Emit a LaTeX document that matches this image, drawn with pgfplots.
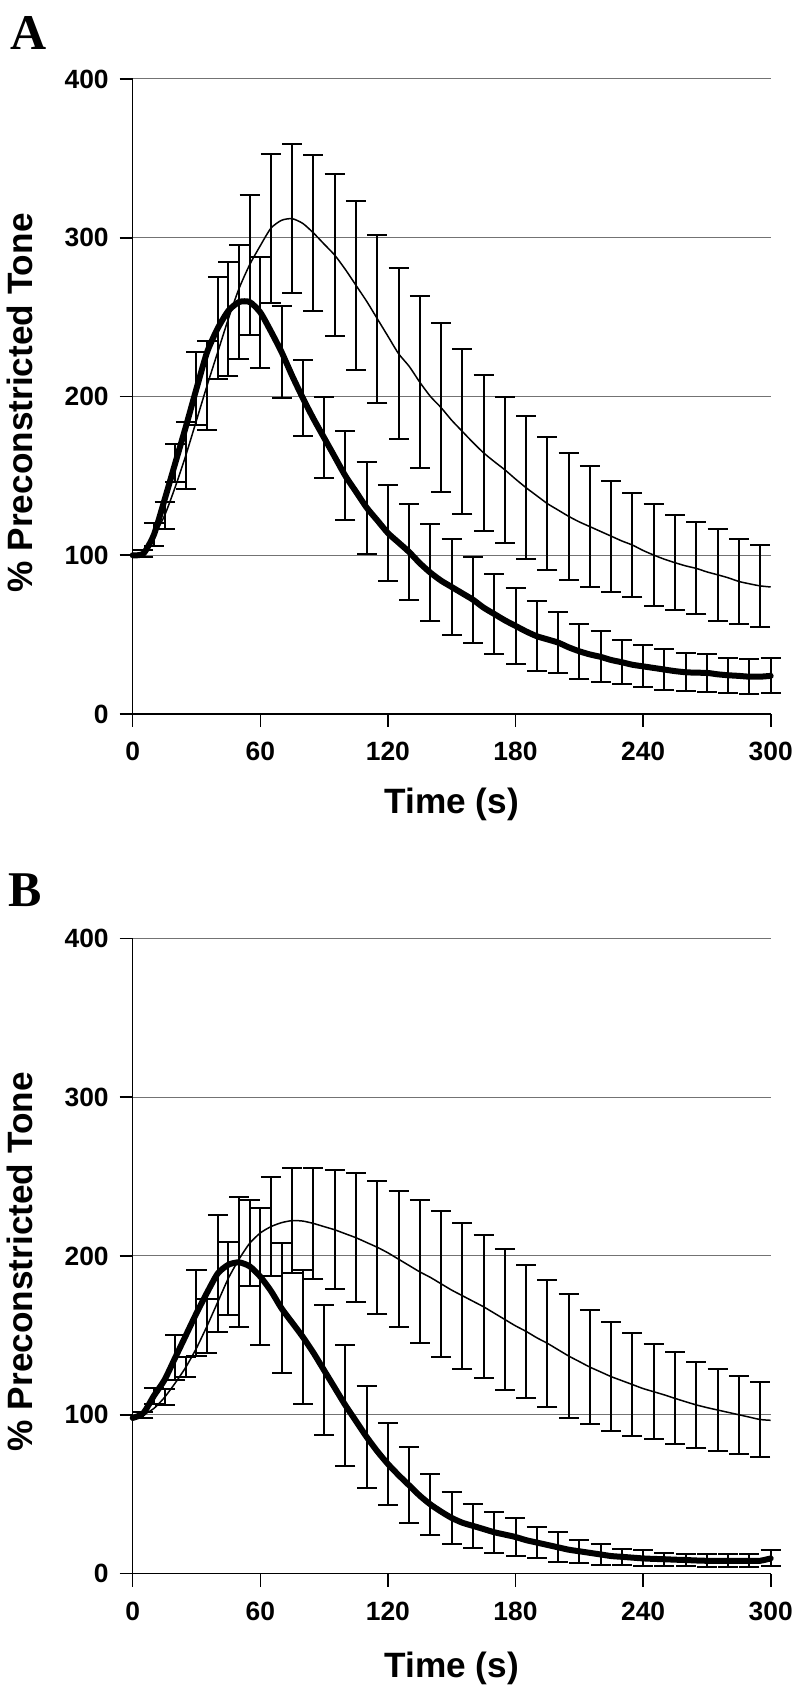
\documentclass[border=0pt]{standalone}
\usepackage{fontspec}
\setmainfont{Liberation Sans}
\newfontfamily\letterfont{Liberation Serif}
\usepackage{pgfplots}
\pgfplotsset{compat=1.18}

% shared look of both panels
\pgfplotsset{
  panel/.style={
    scale only axis, width=319pt, height=317.5pt,
    xmin=0, xmax=300, ymin=0, ymax=400,
    xtick={0,60,...,300}, ytick={0,100,...,400},
    axis x line=bottom, axis y line=left,
    axis line style={-, line width=0.8pt},
    tick align=outside, major tick length=6.5pt,
    tick style={black, line width=0.8pt},
    ymajorgrids, grid style={black!55, line width=0.5pt},
    /pgf/number format/assume math mode=true,
    tick label style={font=\fontsize{13.2}{15}\selectfont\bfseries},
    xticklabel style={yshift=-4pt},
    yticklabel style={xshift=-2pt},
    label style={font=\fontsize{17.6}{20}\selectfont\bfseries},
    xlabel={Time (s)},
    ylabel={\% Preconstricted Tone},
    clip=false,
  },
  thinline/.style={black, mark=none, line width=0.75pt, smooth, tension=0.4},
  thickline/.style={black, mark=none, line width=3pt, smooth, tension=0.4, line join=round, line cap=round},
  sembars/.style={draw=none, mark=none,
    error bars/.cd, y dir=both, y explicit,
    error bar style={draw=black, line width=1pt},
    error mark options={draw=black, rotate=90, mark size=5pt, line width=1pt}},
}

% ---------- panel A ----------
\pgfplotstableread{
t v
0 100
5 101
10 112
15 125
20 143
25 163
30 185
35 207
40 228
45 249
50 268
55 283
60 295
65 306
70 311
75 312
80 309
85 303
90 296
95 289
100 280
105 270
110 260
115 249
120 238
125 227
130 219
135 209
140 200
145 193
150 185
155 178
160 171
165 164.5
170 159
175 153.8
180 148
185 142.5
190 137.5
195 132.5
200 128.5
205 124.5
210 121
215 118
220 115
225 112
230 109
235 106.4
240 103
245 100.1
250 97.5
255 95.3
260 93.3
265 91.7
270 89.5
275 87.7
280 85.8
285 83.5
290 82
295 80.7
300 80
}\thinA
\pgfplotstableread{
t v e
5 101 2
15 125 8.5
25 163 21
35 207 28
45 249 36
55 283 44
65 306 47
75 312 47
85 303 49
95 289 51
105 270 53
115 249 53
125 227 54
135 209 54
145 193 53
155 178 52
165 164.5 49
175 153.8 46
185 142.5 45
195 132.5 42
205 124.5 40
215 118 38
225 112 35
235 106.4 33
245 100.1 32
255 95.3 30
265 91.7 29
275 87.7 29
285 83.5 27
295 80.7 26
}\thinAbars
\pgfplotstableread{
t v
0 100
5 101
10 113
15 135
20 158
25 181
30 205
35 228
40 243
45 254
50 259.5
55 259.5
60 253
65 241
70 228
75 213
80 199
85 186
90 174
95 162
100 150
105 140
110 130
115 122
120 114
125 108
130 102
135 95
140 89
145 84
150 80
155 76
160 72
165 67
170 63
175 59
180 55.5
185 52
190 49
195 47
200 45
205 42
210 39.5
215 37.5
220 36
225 34
230 32.6
235 31
240 30
245 29
250 28
255 27
260 26.3
265 26
270 25.9
275 25
280 24.4
285 24
290 23.5
295 23.5
300 24
}\thickA
\pgfplotstableread{
t v e
10 113 7
20 158 12
30 205 23
40 243 32
50 259.5 36
60 253 35
70 228 29
80 199 24
90 174 25.5
100 150 28
110 130 29
120 114 30.5
130 102 30.5
140 89 30.5
150 80 30
160 72 27
170 63 25
180 55.5 24
190 49 22
200 45 19
210 39.5 17.5
220 36 16
230 32.6 14
240 30 13.3
250 28 13
260 26.3 12
270 25.9 12
280 24.4 11
290 23.5 11
300 24 11
}\thickAbars

% ---------- panel B ----------
\pgfplotstableread{
t v
0 98
5 100
10 104
15 111
20 120
25 130
30 142
35 156
40 171
45 186
50 198
55 208
60 214.5
65 218.5
70 221
75 222.3
80 222
85 220.5
90 218.5
95 216.5
100 214
105 211.5
110 208.5
115 205.5
120 202
125 198
130 194
135 190
140 186.5
145 182.5
150 178.5
155 175
160 171.5
165 168
170 164
175 160
180 156
185 152.5
190 148.5
195 145
200 141
205 137
210 133.5
215 130
220 127
225 124
230 121.5
235 119
240 116.5
245 114.5
250 112.5
255 110.3
260 108.2
265 106.2
270 104.5
275 103
280 101.5
285 100
290 98.5
295 97
300 96.5
}\thinB
\pgfplotstableread{
t v e
5 100 2
15 111 5
25 130 6.5
35 156 17
45 186 23
55 208 27
65 218.5 31
75 222.3 33
85 220.5 35
95 216.5 37.5
105 211.5 40.6
115 205.5 42
125 198 43
135 190 45
145 182.5 46
155 175 46
165 168 45
175 160 44.5
185 152.5 42
195 145 40
205 137 39
215 130 36
225 124 34.5
235 119 32.5
245 114.5 30
255 110.3 29
265 106.2 27
275 103 25.6
285 100 24.7
295 97 23.8
}\thinBbars
\pgfplotstableread{
t v
0 98
5 101
10 112
15 122
20 136
25 150
30 164
35 177
40 189
45 194.5
50 196
55 193.5
60 187
65 178
70 167
75 158
80 149
85 139
90 128
95 117
100 106
105 96
110 86
115 77
120 69
125 62
130 55.5
135 49
140 43.5
145 39
150 35
155 32
160 30
165 28
170 26
175 24.5
180 23
185 21
190 19.5
195 18
200 16.5
205 15
210 14
215 13
220 12
225 11
230 10.5
235 10
240 9.5
245 9.2
250 9
255 8.7
260 8.5
265 8.2
270 8
275 8
280 8
285 8
290 8
295 8
300 9.5
}\thickB
\pgfplotstableread{
t v e
10 112 5
20 136 14
30 164 27
40 189 37
50 196 41
60 187 43
70 167 41
80 149 42
90 128 41
100 106 38
110 86 32
120 69 26
130 55.5 24
140 43.5 19
150 35 16.5
160 30 14
170 26 13
180 23 12
190 19.5 9.5
200 16.5 9.5
210 14 7.3
220 12 6.8
230 10.5 5
240 9.5 5
250 9 4
260 8.5 4
270 8 4
280 8 4
290 8 4
300 9.5 5
}\thickBbars

\begin{document}
\begin{tikzpicture}
\useasboundingbox (0,0) rectangle (400pt,846pt);

\node[anchor=north west, inner sep=0pt, font=\letterfont\bfseries\fontsize{25}{25}\selectfont] at (5pt,838pt) {A};
\node[anchor=north west, inner sep=0pt, font=\letterfont\bfseries\fontsize{25}{25}\selectfont] at (4pt,409.5pt) {B};

\begin{axis}[panel, at={(66.35pt,489pt)}, anchor=south west,
  xlabel style={at={(rel axis cs:0.5,-0.1417)}, anchor=center},
  ylabel style={at={(rel axis cs:-0.1766,0.49)}, anchor=center}]
  \addplot[thinline] table[x=t, y=v] {\thinA};
  \addplot[sembars] table[x=t, y=v, y error=e] {\thinAbars};
  \addplot[sembars] table[x=t, y=v, y error=e] {\thickAbars};
  \addplot[thickline] table[x=t, y=v] {\thickA};
\end{axis}

\begin{axis}[panel, at={(66.35pt,59.25pt)}, anchor=south west,
  xlabel style={at={(rel axis cs:0.5,-0.150)}, anchor=center},
  ylabel style={at={(rel axis cs:-0.1766,0.491)}, anchor=center}]
  \addplot[thinline] table[x=t, y=v] {\thinB};
  \addplot[sembars] table[x=t, y=v, y error=e] {\thinBbars};
  \addplot[sembars] table[x=t, y=v, y error=e] {\thickBbars};
  \addplot[thickline] table[x=t, y=v] {\thickB};
\end{axis}
\end{tikzpicture}
\end{document}
